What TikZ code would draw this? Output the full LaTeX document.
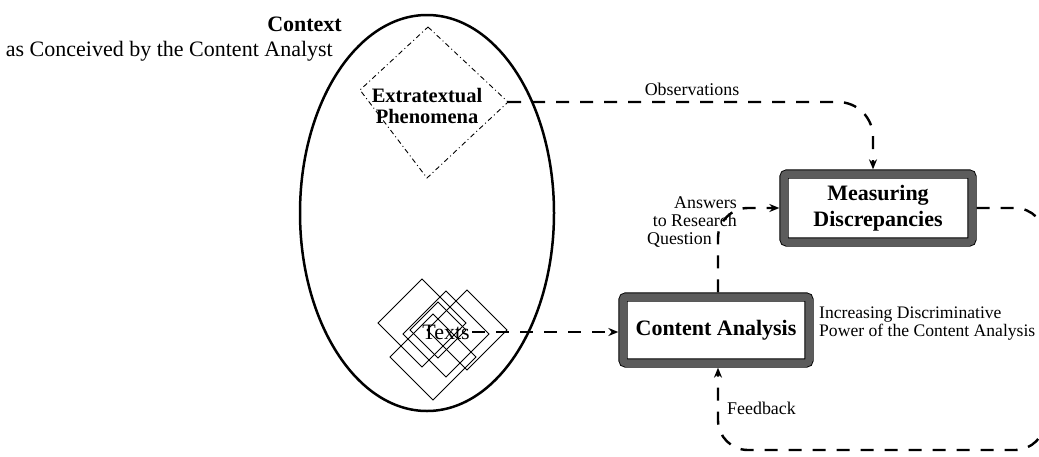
\documentclass[tikz,border=0pt]{standalone}
\usepackage{fontspec}
\setmainfont{Liberation Serif}
\usetikzlibrary{shapes.geometric,arrows.meta}
\definecolor{boxgray}{gray}{0.36}
\tikzset{
  dbox/.style={draw=black, line width=0.9pt, double=boxgray, double distance=7.5pt,
    fill=white, rounded corners=3pt, inner sep=0pt, outer sep=4.65pt, align=center,
    font=\bfseries\fontsize{22}{26}\selectfont},
  dline/.style={line width=2.4pt, dash pattern=on 13pt off 11pt},
  tipend/.style={-{Stealth[length=10pt,width=8pt]}},
  lbl/.style={font=\fontsize{17.9}{18}\selectfont, inner sep=0pt},
  sq/.style={line width=1pt},
  ddot/.style={line width=0.9pt, dash pattern=on 5pt off 3pt on 1pt off 3pt},
}
\begin{document}
\begin{tikzpicture}[x=1pt,y=-1pt]
\useasboundingbox (0,0) rectangle (1039,456);
\clip (0,0) rectangle (1039,456);

% context ellipse
\node[draw, ellipse, line width=2.5pt, minimum width=254pt, minimum height=396pt, inner sep=0pt] (ctx) at (427,213) {};
\node[anchor=north east, align=right, inner sep=0pt, font=\fontsize{22}{25}\selectfont] (ctxlbl) at (342,17)
  {\textbf{Context}\\as Conceived by the Content Analyst\hspace*{9pt}};

% extratextual phenomena diamond
\coordinate (extN) at (428,27);
\coordinate (extE) at (508,102);
\coordinate (extS) at (427,178);
\coordinate (extW) at (360,90);
\draw[ddot] (extN) -- (extE) -- (extS) -- (extW) -- cycle;
\node[font=\bfseries\fontsize{20.5}{21}\selectfont, align=center, inner sep=0pt] (exttxt) at (427,106) {Extratextual\\Phenomena};

% texts squares
\foreach \cx/\cy/\h in {422/323/44, 446/334/43, 467/330/40, 433/357/43, 438/330/28}
  \draw[sq] (\cx-\h,\cy) -- (\cx,\cy-\h) -- (\cx+\h,\cy) -- (\cx,\cy+\h) -- cycle;
\node[font=\fontsize{22}{22}\selectfont, inner sep=2.5pt] (texts) at (446,332) {Texts};

% boxes
\node[dbox, minimum width=186pt, minimum height=66pt] (ca) at (716,330) {Content Analysis};
\node[dbox, minimum width=188pt, minimum height=68pt] (md) at (878,208) {Measuring\\Discrepancies};

% loop corner (off canvas)
\coordinate (loopR) at (1045,450);

% connectors
\draw[dline, tipend] (texts.east) -- (texts.east -| ca.west);
\draw[dline, tipend, rounded corners=35pt] (extE) -| ([xshift=-5pt]md.north);
\draw[dline, tipend, rounded corners=30pt] ([xshift=2pt]ca.north) |- (md.west);
\draw[dline, tipend, rounded corners=30pt] (md.east) -| (loopR) -| ([xshift=2pt]ca.south);

% labels
\node[lbl] (obslbl) at (692,89) {Observations};
\node[lbl, anchor=north east, align=right] (anslbl) at (737,196) {Answers\\to Research\hspace*{15pt}\\Question\hspace*{25pt}};
\node[lbl, anchor=north west, align=left, font=\fontsize{17.6}{14.5}\selectfont] (inclbl) at (819,307) {Increasing Discriminative\\Power of the Content Analysis};
\node[lbl, anchor=west] (fblbl) at (727,408) {Feedback};
\end{tikzpicture}
\end{document}
